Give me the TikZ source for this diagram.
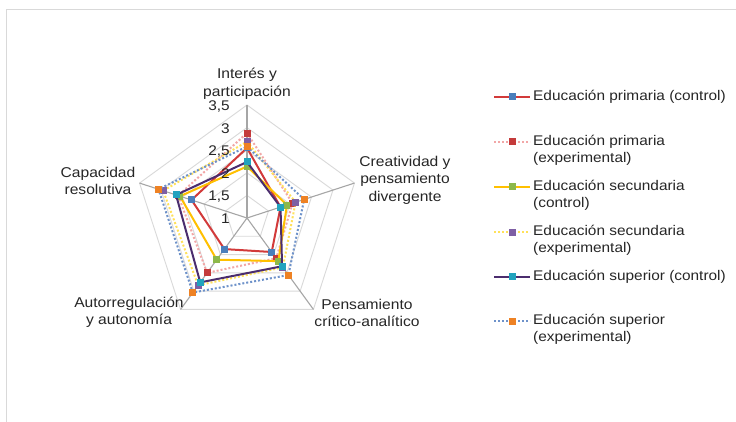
\documentclass[tikz,border=0pt]{standalone}
\usepackage{fontspec}
\setmainfont{Liberation Sans}[FakeStretch=1.1]
\usetikzlibrary{calc}
\definecolor{txt}{HTML}{262626}
\definecolor{framec}{HTML}{D9D9D9}
\definecolor{ringc}{HTML}{D9D9D9}
\definecolor{spokec}{HTML}{A6A6A6}
\definecolor{l1}{HTML}{D23A3A}
\definecolor{l2}{HTML}{F2A7A7}
\definecolor{l3}{HTML}{FFC000}
\definecolor{l4}{HTML}{FFE15A}
\definecolor{l5}{HTML}{4B2D6E}
\definecolor{l6}{HTML}{6E92CA}
\definecolor{m1}{HTML}{4A7EBB}
\definecolor{m2}{HTML}{C43B3B}
\definecolor{m3}{HTML}{8DB84A}
\definecolor{m4}{HTML}{7E5FA4}
\definecolor{m5}{HTML}{22A3BE}
\definecolor{m6}{HTML}{EE8224}
\tikzset{
  solidser/.style={line width=2pt, line join=round},
  dotser/.style={line width=2pt, dash pattern=on 2pt off 2pt},
  mk/.style={rectangle, minimum size=7pt, inner sep=0pt, draw=none},
  axlab/.style={align=center, inner sep=0pt, font=\fontsize{14.2}{17.5}\selectfont},
  ticklab/.style={anchor=east, inner sep=0pt, font=\fontsize{14}{17}\selectfont},
  leglab/.style={anchor=west, align=left, inner sep=0pt, font=\fontsize{14}{17}\selectfont},
}
\newcommand\radarseries[8]{%
  \path (90:{(#3-1)*45.2}) coordinate (#8a)
        (18:{(#4-1)*45.2}) coordinate (#8b)
        (-54:{(#5-1)*45.2}) coordinate (#8c)
        (-126:{(#6-1)*45.2}) coordinate (#8d)
        (162:{(#7-1)*45.2}) coordinate (#8e);
  \draw[#1] (#8a) -- (#8b) -- (#8c) -- (#8d) -- (#8e) -- cycle;
  \foreach \q in {a,b,c,d,e} \node[mk, fill=#2] at (#8\q) {};
}
\newcommand\legendentry[4]{% style, marker colour, y, name
  \coordinate (#4s) at (494,#3);
  \coordinate (#4e) at (530,#3);
  \draw[#1] (#4s) -- (#4e);
  \node[mk, fill=#2] (#4m) at (512,#3) {};
}
\begin{document}
\begin{tikzpicture}[x=1pt, y=-1pt, every node/.style={text=txt}]
\useasboundingbox (0,0) rectangle (736,422);
\fill[white] (0,0) rectangle (736,422);
\draw[framec, line width=1.3pt] (6.5,440) -- (6.5,9.5) -- (750,9.5);

\begin{scope}[shift={(247,218)}, x=1pt, y=1pt]
  \foreach \v in {1.5,2,2.5,3,3.5}
    \draw[ringc, line width=0.9pt] (90:{(\v-1)*45.2}) -- (18:{(\v-1)*45.2}) -- (-54:{(\v-1)*45.2}) -- (-126:{(\v-1)*45.2}) -- (162:{(\v-1)*45.2}) -- cycle;
  \foreach \a in {90,18,-54,-126,162}
    \draw[spokec, line width=1.1pt] (0,0) -- (\a:113);
  \radarseries{solidser, l1}{m1}{2.55}{1.78}{1.93}{1.85}{2.29}{sa}
  \radarseries{dotser, l2}{m2}{2.88}{2.06}{2.10}{2.50}{2.60}{sb}
  \radarseries{solidser, l3}{m3}{2.14}{1.93}{2.18}{2.14}{2.56}{sc}
  \radarseries{dotser, l4}{m4}{2.69}{2.13}{2.35}{2.84}{2.95}{sd}
  \radarseries{solidser, l5}{m5}{2.24}{1.78}{2.32}{2.76}{2.65}{se}
  \radarseries{dotser, l6}{m6}{2.58}{2.33}{2.56}{3.04}{3.06}{sf}
\end{scope}

% value labels
\node[ticklab] (t35) at (230,107) {3,5};
\node[ticklab] (t30) at (230,129) {3};
\node[ticklab] (t25) at (230,151.5) {2,5};
\node[ticklab] (t20) at (230,174) {2};
\node[ticklab] (t15) at (230,197) {1,5};
\node[ticklab] (t10) at (230,218.5) {1};

% axis labels
\node[axlab] (ax1) at (247,83.5) {Interés y\\participación};
\node[axlab] (ax2) at (405,180) {Creatividad y\\pensamiento\\divergente};
\node[axlab] (ax3) at (367,313) {Pensamiento\\crítico-analítico};
\node[axlab] (ax4) at (129,312) {Autorregulación\\y autonomía};
\node[axlab] (ax5) at (98,181) {Capacidad\\resolutiva};

% legend
\legendentry{solidser, l1}{m1}{97}{la}
\node[leglab] (lta) at (533,97) {Educación primaria (control)};
\legendentry{dotser, l2}{m2}{142}{lb}
\node[leglab] (ltb) at (533,150.5) {Educación primaria\\(experimental)};
\legendentry{solidser, l3}{m3}{187}{lc}
\node[leglab] (ltc) at (533,195.5) {Educación secundaria\\(control)};
\legendentry{dotser, l4}{m4}{232}{ld}
\node[leglab] (ltd) at (533,240.5) {Educación secundaria\\(experimental)};
\legendentry{solidser, l5}{m5}{276.5}{le}
\node[leglab] (lte) at (533,276.5) {Educación superior (control)};
\legendentry{dotser, l6}{m6}{321}{lf}
\node[leglab] (ltf) at (533,329.5) {Educación superior\\(experimental)};
\end{tikzpicture}
\end{document}
